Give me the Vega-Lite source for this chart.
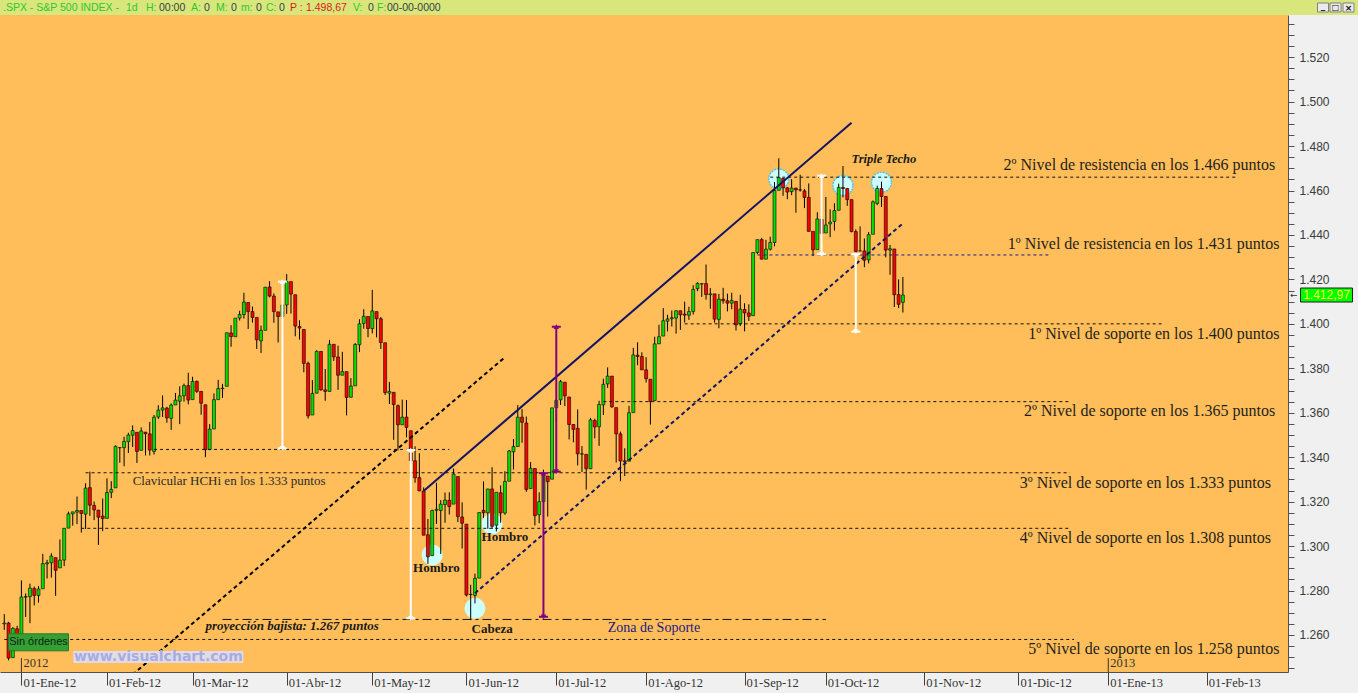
{
"$schema": "https://vega.github.io/schema/vega-lite/v6.json",
"background": "#F0F0F0",
"padding": 0,
"spacing": 0,
"config": {"view": {"stroke": null},
 "axisY": {"grid": false, "domainColor": "#505050", "tickColor": "#505050", "tickSize": 6, "labelPadding": 5, "labelFont": "Liberation Sans", "labelFontSize": 12, "labelColor": "#3A3A3A", "labelOverlap": false, "labelBound": false, "labelFlush": false, "minExtent": 70, "maxExtent": 70}},
"datasets": {
"ohlc": [
{"d":"2011-12-27","o":1265.0,"h":1269.4,"l":1262.3,"c":1265.4},
{"d":"2011-12-28","o":1265.4,"h":1265.9,"l":1248.6,"c":1249.6},
{"d":"2011-12-29","o":1249.8,"h":1263.5,"l":1249.8,"c":1263.0},
{"d":"2011-12-30","o":1262.8,"h":1264.1,"l":1257.5,"c":1257.6},
{"d":"2012-01-03","o":1258.9,"h":1284.6,"l":1258.9,"c":1277.1},
{"d":"2012-01-04","o":1277.0,"h":1278.7,"l":1268.1,"c":1277.3},
{"d":"2012-01-05","o":1277.3,"h":1283.1,"l":1265.3,"c":1281.1},
{"d":"2012-01-06","o":1280.9,"h":1281.8,"l":1273.3,"c":1277.8},
{"d":"2012-01-09","o":1277.8,"h":1282.0,"l":1274.6,"c":1280.7},
{"d":"2012-01-10","o":1280.8,"h":1296.5,"l":1280.8,"c":1292.1},
{"d":"2012-01-11","o":1292.0,"h":1293.8,"l":1285.4,"c":1292.5},
{"d":"2012-01-12","o":1292.5,"h":1296.8,"l":1285.8,"c":1295.5},
{"d":"2012-01-13","o":1294.8,"h":1294.8,"l":1277.6,"c":1289.1},
{"d":"2012-01-17","o":1290.2,"h":1303.0,"l":1290.2,"c":1293.7},
{"d":"2012-01-18","o":1293.7,"h":1308.1,"l":1291.0,"c":1308.0},
{"d":"2012-01-19","o":1308.1,"h":1315.5,"l":1308.1,"c":1314.5},
{"d":"2012-01-20","o":1314.5,"h":1315.4,"l":1309.2,"c":1315.4},
{"d":"2012-01-23","o":1315.3,"h":1322.3,"l":1309.9,"c":1316.0},
{"d":"2012-01-24","o":1316.0,"h":1316.0,"l":1306.1,"c":1314.7},
{"d":"2012-01-25","o":1314.4,"h":1328.3,"l":1307.7,"c":1326.1},
{"d":"2012-01-26","o":1326.3,"h":1333.5,"l":1313.6,"c":1318.4},
{"d":"2012-01-27","o":1318.3,"h":1320.1,"l":1311.7,"c":1316.3},
{"d":"2012-01-30","o":1316.2,"h":1316.2,"l":1300.5,"c":1313.0},
{"d":"2012-01-31","o":1313.5,"h":1321.4,"l":1306.7,"c":1312.4},
{"d":"2012-02-01","o":1312.5,"h":1330.5,"l":1312.5,"c":1324.1},
{"d":"2012-02-02","o":1324.2,"h":1329.2,"l":1321.6,"c":1325.5},
{"d":"2012-02-03","o":1326.2,"h":1345.3,"l":1326.2,"c":1344.9},
{"d":"2012-02-06","o":1344.3,"h":1344.4,"l":1337.5,"c":1344.3},
{"d":"2012-02-07","o":1344.3,"h":1349.2,"l":1335.9,"c":1347.1},
{"d":"2012-02-08","o":1347.0,"h":1351.0,"l":1341.9,"c":1350.0},
{"d":"2012-02-09","o":1349.9,"h":1354.3,"l":1344.6,"c":1352.0},
{"d":"2012-02-10","o":1351.2,"h":1351.2,"l":1337.4,"c":1342.6},
{"d":"2012-02-13","o":1343.1,"h":1353.4,"l":1343.1,"c":1351.8},
{"d":"2012-02-14","o":1351.3,"h":1351.3,"l":1340.8,"c":1350.5},
{"d":"2012-02-15","o":1350.5,"h":1355.9,"l":1340.8,"c":1343.2},
{"d":"2012-02-16","o":1342.6,"h":1359.0,"l":1341.2,"c":1358.0},
{"d":"2012-02-17","o":1358.1,"h":1363.4,"l":1357.2,"c":1361.2},
{"d":"2012-02-21","o":1361.2,"h":1367.8,"l":1358.1,"c":1362.2},
{"d":"2012-02-22","o":1362.1,"h":1362.7,"l":1355.5,"c":1357.7},
{"d":"2012-02-23","o":1357.5,"h":1364.2,"l":1352.3,"c":1363.5},
{"d":"2012-02-24","o":1363.5,"h":1368.9,"l":1363.5,"c":1365.7},
{"d":"2012-02-27","o":1365.2,"h":1371.9,"l":1354.9,"c":1367.6},
{"d":"2012-02-28","o":1367.6,"h":1373.1,"l":1365.0,"c":1372.2},
{"d":"2012-02-29","o":1372.2,"h":1378.0,"l":1363.8,"c":1365.7},
{"d":"2012-03-01","o":1365.9,"h":1376.2,"l":1365.9,"c":1374.1},
{"d":"2012-03-02","o":1374.1,"h":1374.5,"l":1368.9,"c":1369.6},
{"d":"2012-03-05","o":1369.6,"h":1369.6,"l":1359.1,"c":1364.3},
{"d":"2012-03-06","o":1363.6,"h":1363.6,"l":1340.0,"c":1343.4},
{"d":"2012-03-07","o":1343.4,"h":1354.9,"l":1343.4,"c":1352.6},
{"d":"2012-03-08","o":1352.7,"h":1368.7,"l":1352.7,"c":1365.9},
{"d":"2012-03-09","o":1365.9,"h":1374.8,"l":1365.9,"c":1370.9},
{"d":"2012-03-12","o":1370.8,"h":1373.0,"l":1366.7,"c":1371.1},
{"d":"2012-03-13","o":1371.9,"h":1396.1,"l":1371.9,"c":1396.0},
{"d":"2012-03-14","o":1395.9,"h":1399.4,"l":1389.7,"c":1394.3},
{"d":"2012-03-15","o":1394.2,"h":1402.6,"l":1394.2,"c":1402.6},
{"d":"2012-03-16","o":1402.6,"h":1405.9,"l":1401.5,"c":1404.2},
{"d":"2012-03-19","o":1404.2,"h":1414.0,"l":1402.4,"c":1409.8},
{"d":"2012-03-20","o":1409.6,"h":1409.6,"l":1397.7,"c":1405.5},
{"d":"2012-03-21","o":1405.5,"h":1407.8,"l":1400.6,"c":1402.9},
{"d":"2012-03-22","o":1402.9,"h":1402.9,"l":1388.7,"c":1392.8},
{"d":"2012-03-23","o":1392.3,"h":1399.2,"l":1386.9,"c":1397.1},
{"d":"2012-03-26","o":1397.1,"h":1416.6,"l":1397.1,"c":1416.5},
{"d":"2012-03-27","o":1416.6,"h":1419.2,"l":1411.9,"c":1412.5},
{"d":"2012-03-28","o":1412.5,"h":1413.7,"l":1400.5,"c":1405.5},
{"d":"2012-03-29","o":1405.4,"h":1405.4,"l":1391.6,"c":1403.3},
{"d":"2012-03-30","o":1403.3,"h":1410.9,"l":1401.4,"c":1408.5},
{"d":"2012-04-02","o":1408.5,"h":1422.4,"l":1404.5,"c":1419.0},
{"d":"2012-04-03","o":1419.0,"h":1419.0,"l":1404.6,"c":1413.4},
{"d":"2012-04-04","o":1413.1,"h":1413.1,"l":1394.4,"c":1399.0},
{"d":"2012-04-05","o":1398.8,"h":1401.6,"l":1392.9,"c":1398.1},
{"d":"2012-04-09","o":1397.5,"h":1397.5,"l":1378.2,"c":1382.2},
{"d":"2012-04-10","o":1382.2,"h":1383.0,"l":1357.4,"c":1358.6},
{"d":"2012-04-11","o":1359.0,"h":1374.7,"l":1359.0,"c":1368.7},
{"d":"2012-04-12","o":1368.8,"h":1388.1,"l":1368.8,"c":1387.6},
{"d":"2012-04-13","o":1387.6,"h":1387.6,"l":1369.9,"c":1370.3},
{"d":"2012-04-16","o":1370.3,"h":1379.7,"l":1365.4,"c":1369.6},
{"d":"2012-04-17","o":1369.6,"h":1392.8,"l":1369.6,"c":1390.8},
{"d":"2012-04-18","o":1390.8,"h":1390.8,"l":1383.3,"c":1385.1},
{"d":"2012-04-19","o":1385.1,"h":1390.2,"l":1370.3,"c":1376.9},
{"d":"2012-04-20","o":1376.9,"h":1387.4,"l":1376.9,"c":1378.5},
{"d":"2012-04-23","o":1378.5,"h":1378.5,"l":1358.8,"c":1366.9},
{"d":"2012-04-24","o":1367.0,"h":1375.6,"l":1366.8,"c":1372.0},
{"d":"2012-04-25","o":1372.1,"h":1391.4,"l":1372.1,"c":1390.7},
{"d":"2012-04-26","o":1390.6,"h":1402.1,"l":1387.3,"c":1400.0},
{"d":"2012-04-27","o":1400.2,"h":1406.6,"l":1397.8,"c":1403.4},
{"d":"2012-04-30","o":1403.3,"h":1403.3,"l":1394.0,"c":1397.9},
{"d":"2012-05-01","o":1397.9,"h":1415.3,"l":1395.7,"c":1405.8},
{"d":"2012-05-02","o":1405.5,"h":1405.5,"l":1393.9,"c":1402.3},
{"d":"2012-05-03","o":1402.3,"h":1403.1,"l":1388.7,"c":1391.6},
{"d":"2012-05-04","o":1391.5,"h":1391.5,"l":1368.0,"c":1369.1},
{"d":"2012-05-07","o":1368.8,"h":1373.9,"l":1363.9,"c":1369.6},
{"d":"2012-05-08","o":1369.2,"h":1369.2,"l":1347.8,"c":1363.7},
{"d":"2012-05-09","o":1363.2,"h":1363.7,"l":1343.1,"c":1354.6},
{"d":"2012-05-10","o":1354.6,"h":1365.9,"l":1354.6,"c":1358.0},
{"d":"2012-05-11","o":1358.1,"h":1365.7,"l":1348.9,"c":1353.4},
{"d":"2012-05-14","o":1351.9,"h":1351.9,"l":1336.6,"c":1338.4},
{"d":"2012-05-15","o":1338.4,"h":1344.9,"l":1328.5,"c":1330.7},
{"d":"2012-05-16","o":1330.8,"h":1341.8,"l":1324.8,"c":1324.8},
{"d":"2012-05-17","o":1324.8,"h":1326.4,"l":1304.9,"c":1304.9},
{"d":"2012-05-18","o":1305.1,"h":1312.2,"l":1292.0,"c":1295.2},
{"d":"2012-05-21","o":1295.7,"h":1316.4,"l":1295.7,"c":1316.0},
{"d":"2012-05-22","o":1316.1,"h":1328.5,"l":1310.0,"c":1316.6},
{"d":"2012-05-23","o":1316.0,"h":1320.7,"l":1296.5,"c":1318.9},
{"d":"2012-05-24","o":1318.7,"h":1324.1,"l":1310.5,"c":1320.7},
{"d":"2012-05-25","o":1320.6,"h":1324.2,"l":1314.2,"c":1317.8},
{"d":"2012-05-29","o":1318.9,"h":1334.9,"l":1318.9,"c":1332.4},
{"d":"2012-05-30","o":1331.3,"h":1331.3,"l":1310.8,"c":1313.3},
{"d":"2012-05-31","o":1313.1,"h":1319.7,"l":1298.9,"c":1310.3},
{"d":"2012-06-01","o":1309.9,"h":1309.9,"l":1277.3,"c":1278.0},
{"d":"2012-06-04","o":1278.3,"h":1282.6,"l":1266.7,"c":1278.2},
{"d":"2012-06-05","o":1277.8,"h":1287.6,"l":1274.2,"c":1285.5},
{"d":"2012-06-06","o":1285.6,"h":1315.1,"l":1285.6,"c":1315.1},
{"d":"2012-06-07","o":1316.1,"h":1329.1,"l":1312.7,"c":1315.0},
{"d":"2012-06-08","o":1315.0,"h":1325.8,"l":1307.8,"c":1325.7},
{"d":"2012-06-11","o":1325.7,"h":1335.5,"l":1307.7,"c":1308.9},
{"d":"2012-06-12","o":1309.4,"h":1324.3,"l":1306.6,"c":1324.2},
{"d":"2012-06-13","o":1324.0,"h":1327.3,"l":1310.5,"c":1314.9},
{"d":"2012-06-14","o":1314.9,"h":1333.7,"l":1314.1,"c":1329.1},
{"d":"2012-06-15","o":1329.2,"h":1343.3,"l":1329.2,"c":1342.8},
{"d":"2012-06-18","o":1342.4,"h":1348.2,"l":1334.5,"c":1344.8},
{"d":"2012-06-19","o":1344.8,"h":1363.5,"l":1344.8,"c":1358.0},
{"d":"2012-06-20","o":1358.0,"h":1361.6,"l":1346.5,"c":1355.7},
{"d":"2012-06-21","o":1355.4,"h":1358.3,"l":1324.4,"c":1325.5},
{"d":"2012-06-22","o":1325.9,"h":1337.8,"l":1325.9,"c":1335.0},
{"d":"2012-06-25","o":1334.9,"h":1334.9,"l":1309.3,"c":1313.7},
{"d":"2012-06-26","o":1314.1,"h":1324.2,"l":1310.3,"c":1320.0},
{"d":"2012-06-27","o":1320.0,"h":1334.4,"l":1320.0,"c":1331.9},
{"d":"2012-06-28","o":1331.5,"h":1331.5,"l":1313.3,"c":1329.0},
{"d":"2012-06-29","o":1330.1,"h":1362.2,"l":1330.1,"c":1362.2},
{"d":"2012-07-02","o":1362.3,"h":1366.4,"l":1355.7,"c":1365.5},
{"d":"2012-07-03","o":1365.8,"h":1374.8,"l":1363.5,"c":1374.0},
{"d":"2012-07-05","o":1373.7,"h":1373.9,"l":1363.0,"c":1367.6},
{"d":"2012-07-06","o":1367.1,"h":1367.1,"l":1348.0,"c":1354.7},
{"d":"2012-07-09","o":1354.7,"h":1354.9,"l":1346.7,"c":1352.5},
{"d":"2012-07-10","o":1353.0,"h":1361.5,"l":1336.3,"c":1341.5},
{"d":"2012-07-11","o":1341.4,"h":1345.0,"l":1333.3,"c":1341.5},
{"d":"2012-07-12","o":1341.3,"h":1341.3,"l":1325.4,"c":1334.8},
{"d":"2012-07-13","o":1334.8,"h":1357.7,"l":1334.8,"c":1356.8},
{"d":"2012-07-16","o":1356.5,"h":1357.3,"l":1348.5,"c":1353.6},
{"d":"2012-07-17","o":1353.7,"h":1365.4,"l":1345.1,"c":1363.7},
{"d":"2012-07-18","o":1363.6,"h":1375.3,"l":1359.0,"c":1372.8},
{"d":"2012-07-19","o":1373.0,"h":1380.4,"l":1371.2,"c":1376.5},
{"d":"2012-07-20","o":1376.5,"h":1376.5,"l":1362.2,"c":1362.7},
{"d":"2012-07-23","o":1362.3,"h":1362.3,"l":1337.6,"c":1350.5},
{"d":"2012-07-24","o":1350.5,"h":1351.5,"l":1329.2,"c":1338.3},
{"d":"2012-07-25","o":1338.4,"h":1344.0,"l":1331.5,"c":1337.9},
{"d":"2012-07-26","o":1338.2,"h":1363.1,"l":1338.2,"c":1360.0},
{"d":"2012-07-27","o":1360.1,"h":1389.2,"l":1360.1,"c":1386.0},
{"d":"2012-07-30","o":1385.9,"h":1391.7,"l":1381.4,"c":1385.3},
{"d":"2012-07-31","o":1385.3,"h":1387.2,"l":1379.2,"c":1379.3},
{"d":"2012-08-01","o":1379.3,"h":1385.0,"l":1373.6,"c":1375.3},
{"d":"2012-08-02","o":1375.1,"h":1375.1,"l":1354.7,"c":1365.0},
{"d":"2012-08-03","o":1365.5,"h":1394.2,"l":1365.5,"c":1391.0},
{"d":"2012-08-06","o":1391.0,"h":1399.6,"l":1391.0,"c":1394.2},
{"d":"2012-08-07","o":1394.5,"h":1407.1,"l":1394.5,"c":1401.4},
{"d":"2012-08-08","o":1401.2,"h":1404.1,"l":1396.6,"c":1402.2},
{"d":"2012-08-09","o":1402.3,"h":1406.0,"l":1398.8,"c":1402.8},
{"d":"2012-08-10","o":1402.6,"h":1406.0,"l":1395.6,"c":1405.9},
{"d":"2012-08-13","o":1405.9,"h":1405.9,"l":1397.3,"c":1404.1},
{"d":"2012-08-14","o":1404.4,"h":1410.0,"l":1400.6,"c":1403.9},
{"d":"2012-08-15","o":1403.9,"h":1407.7,"l":1401.8,"c":1405.5},
{"d":"2012-08-16","o":1405.6,"h":1417.4,"l":1404.2,"c":1415.5},
{"d":"2012-08-17","o":1415.8,"h":1418.7,"l":1414.7,"c":1418.2},
{"d":"2012-08-20","o":1417.9,"h":1418.1,"l":1412.1,"c":1418.1},
{"d":"2012-08-21","o":1418.1,"h":1426.7,"l":1410.9,"c":1413.2},
{"d":"2012-08-22","o":1413.1,"h":1416.1,"l":1406.8,"c":1413.5},
{"d":"2012-08-23","o":1413.5,"h":1413.5,"l":1400.5,"c":1402.1},
{"d":"2012-08-24","o":1402.0,"h":1413.5,"l":1398.0,"c":1411.1},
{"d":"2012-08-27","o":1411.1,"h":1416.2,"l":1409.1,"c":1410.4},
{"d":"2012-08-28","o":1410.4,"h":1413.6,"l":1405.6,"c":1409.3},
{"d":"2012-08-29","o":1409.3,"h":1414.0,"l":1406.6,"c":1410.5},
{"d":"2012-08-30","o":1410.1,"h":1410.1,"l":1397.0,"c":1399.5},
{"d":"2012-08-31","o":1400.1,"h":1413.1,"l":1399.0,"c":1406.6},
{"d":"2012-09-04","o":1406.5,"h":1409.3,"l":1396.6,"c":1404.9},
{"d":"2012-09-05","o":1404.9,"h":1408.8,"l":1401.3,"c":1403.4},
{"d":"2012-09-06","o":1403.7,"h":1432.1,"l":1403.7,"c":1432.1},
{"d":"2012-09-07","o":1432.1,"h":1437.9,"l":1431.4,"c":1437.9},
{"d":"2012-09-10","o":1437.9,"h":1438.7,"l":1429.0,"c":1429.1},
{"d":"2012-09-11","o":1429.1,"h":1437.8,"l":1429.1,"c":1433.6},
{"d":"2012-09-12","o":1433.6,"h":1439.2,"l":1433.0,"c":1436.6},
{"d":"2012-09-13","o":1436.6,"h":1463.8,"l":1434.9,"c":1460.0},
{"d":"2012-09-14","o":1460.1,"h":1474.5,"l":1460.1,"c":1465.8},
{"d":"2012-09-17","o":1465.4,"h":1465.6,"l":1457.6,"c":1461.2},
{"d":"2012-09-18","o":1461.2,"h":1461.5,"l":1456.1,"c":1459.3},
{"d":"2012-09-19","o":1459.5,"h":1465.1,"l":1457.9,"c":1461.1},
{"d":"2012-09-20","o":1461.1,"h":1461.2,"l":1450.0,"c":1460.3},
{"d":"2012-09-21","o":1460.3,"h":1467.1,"l":1459.5,"c":1460.2},
{"d":"2012-09-24","o":1459.8,"h":1460.7,"l":1452.1,"c":1456.9},
{"d":"2012-09-25","o":1456.9,"h":1463.2,"l":1441.6,"c":1441.6},
{"d":"2012-09-26","o":1441.6,"h":1441.6,"l":1430.5,"c":1433.3},
{"d":"2012-09-27","o":1433.4,"h":1450.2,"l":1433.4,"c":1447.2},
{"d":"2012-09-28","o":1447.1,"h":1447.1,"l":1435.6,"c":1440.7},
{"d":"2012-10-01","o":1440.9,"h":1457.1,"l":1440.9,"c":1444.5},
{"d":"2012-10-02","o":1445.0,"h":1451.5,"l":1439.0,"c":1445.8},
{"d":"2012-10-03","o":1446.1,"h":1454.3,"l":1442.0,"c":1451.0},
{"d":"2012-10-04","o":1451.1,"h":1463.1,"l":1451.1,"c":1461.4},
{"d":"2012-10-05","o":1461.4,"h":1471.0,"l":1456.9,"c":1460.9},
{"d":"2012-10-08","o":1460.9,"h":1460.9,"l":1453.1,"c":1455.9},
{"d":"2012-10-09","o":1455.9,"h":1455.9,"l":1441.2,"c":1441.5},
{"d":"2012-10-10","o":1441.5,"h":1442.5,"l":1430.6,"c":1432.6},
{"d":"2012-10-11","o":1432.8,"h":1443.9,"l":1432.8,"c":1432.8},
{"d":"2012-10-12","o":1432.8,"h":1438.4,"l":1425.5,"c":1428.6},
{"d":"2012-10-15","o":1428.8,"h":1441.3,"l":1427.2,"c":1440.1},
{"d":"2012-10-16","o":1440.3,"h":1455.5,"l":1440.3,"c":1454.9},
{"d":"2012-10-17","o":1454.2,"h":1462.2,"l":1453.4,"c":1460.9},
{"d":"2012-10-18","o":1460.9,"h":1464.0,"l":1452.6,"c":1457.3},
{"d":"2012-10-19","o":1457.3,"h":1457.3,"l":1429.9,"c":1433.2},
{"d":"2012-10-22","o":1433.2,"h":1435.5,"l":1422.1,"c":1433.8},
{"d":"2012-10-23","o":1433.7,"h":1433.7,"l":1407.6,"c":1413.1},
{"d":"2012-10-24","o":1413.2,"h":1420.0,"l":1407.1,"c":1408.8},
{"d":"2012-10-25","o":1409.7,"h":1421.1,"l":1405.1,"c":1412.97}
],
"niveles": [
{"g":"1466","d":"2012-09-12","v":1466},{"g":"1466","d":"2013-02-12","v":1466},
{"g":"1431","d":"2012-09-07","v":1431},{"g":"1431","d":"2012-12-12","v":1431},
{"g":"1400","d":"2012-08-14","v":1400},{"g":"1400","d":"2013-01-18","v":1400},
{"g":"1365","d":"2012-07-18","v":1365},{"g":"1365","d":"2012-12-19","v":1365},
{"g":"1343","d":"2012-02-16","v":1343.5},{"g":"1343","d":"2012-05-25","v":1343.5},
{"g":"1333","d":"2012-01-25","v":1333},{"g":"1333","d":"2012-12-19","v":1333},
{"g":"1308","d":"2012-01-24","v":1308},{"g":"1308","d":"2012-12-19","v":1308},
{"g":"1267","d":"2012-03-12","v":1267},{"g":"1267","d":"2012-10-01","v":1267},
{"g":"1258","d":"2011-12-27","v":1258},{"g":"1258","d":"2012-12-20","v":1258}
],
"tendencias": [
{"g":"sup","d":"2012-05-17","v":1324.8},{"g":"sup","d":"2012-10-09","v":1490.5},
{"g":"inf","d":"2012-06-05","v":1278.8},{"g":"inf","d":"2012-10-25","v":1445.2},
{"g":"hch","d":"2012-02-09","v":1242.2},{"g":"hch","d":"2012-06-14","v":1385.0}
],
"flechas": [
{"patron":"HCH","d":"2012-03-30","top":1419.0,"bot":1344.0},
{"patron":"HCH","d":"2012-05-14","top":1343.2,"bot":1267.5},
{"patron":"HCHi","d":"2012-07-02","top":1398.7,"bot":1333.5},
{"patron":"HCHi","d":"2012-06-27","top":1332.8,"bot":1268.2},
{"patron":"TT","d":"2012-09-28","top":1466.7,"bot":1431.3},
{"patron":"TT","d":"2012-10-10","top":1431.4,"bot":1396.5}
],
"marcas": [
{"patron":"HCHi","d":"2012-05-21","v":1296.0},
{"patron":"HCHi","d":"2012-06-05","v":1272.0},
{"patron":"HCHi","d":"2012-06-11","v":1310.0},
{"patron":"TT","d":"2012-09-14","v":1465.2},
{"patron":"TT","d":"2012-10-05","v":1462.2},
{"patron":"TT","d":"2012-10-18","v":1463.7}
],
"textos": [
{"t":"2º Nivel de resistencia en los 1.466 puntos","d":"2013-02-25","v":1471.5,"clase":"nivel"},
{"t":"1º Nivel de resistencia en los 1.431 puntos","d":"2013-02-26","v":1435.8,"clase":"nivel"},
{"t":"1º Nivel de soporte en los 1.400 puntos","d":"2013-02-26","v":1395.4,"clase":"nivel"},
{"t":"2º Nivel de soporte en los 1.365 puntos","d":"2013-02-25","v":1360.9,"clase":"nivel"},
{"t":"3º Nivel de soporte en los 1.333 puntos","d":"2013-02-22","v":1328.3,"clase":"nivel"},
{"t":"4º Nivel de soporte en los 1.308 puntos","d":"2013-02-22","v":1303.5,"clase":"nivel"},
{"t":"5º Nivel de soporte en los 1.258 puntos","d":"2013-02-26","v":1253.7,"clase":"nivel"},
{"t":"Clavicular HCHi en los 1.333 puntos","d":"2012-02-09","v":1329.3,"clase":"clavicular"},
{"t":"proyección bajista: 1.267 puntos","d":"2012-03-06","v":1264.0,"clase":"proyeccion"},
{"t":"Hombro","d":"2012-05-22","v":1290.3,"clase":"figura"},
{"t":"Hombro","d":"2012-06-14","v":1304.2,"clase":"figura"},
{"t":"Cabeza","d":"2012-06-11","v":1262.7,"clase":"figura"},
{"t":"Zona de Soporte","d":"2012-07-19","v":1263.0,"clase":"zona"},
{"t":"Triple Techo","d":"2012-10-09","v":1474.2,"clase":"techo"}
],
"anios": [{"t":"2012","d":"2012-01-03"},{"t":"2013","d":"2013-01-01"}],
"uno": [{"k":1}]
},
"vconcat": [
{
"width": 1358, "height": 15,
"view": {"fill": "#D9E67C", "stroke": null},
"data": {"name": "uno"},
"layer": [
{"mark": {"type": "text", "align": "left", "baseline": "middle", "font": "Liberation Sans", "fontSize": 10.5, "fill": "#2CC82C"}, "encoding": {"x": {"value": 3}, "y": {"value": 8}, "text": {"value": ".SPX - S&P 500 INDEX -"}}},
{"mark": {"type": "text", "align": "left", "baseline": "middle", "font": "Liberation Sans", "fontSize": 10.5, "fill": "#2CC82C"}, "encoding": {"x": {"value": 126}, "y": {"value": 8}, "text": {"value": "1d"}}},
{"mark": {"type": "text", "align": "left", "baseline": "middle", "font": "Liberation Sans", "fontSize": 10.5, "fill": "#2CC82C"}, "encoding": {"x": {"value": 146}, "y": {"value": 8}, "text": {"value": "H:"}}},
{"mark": {"type": "text", "align": "left", "baseline": "middle", "font": "Liberation Sans", "fontSize": 10.5, "fill": "#34404C"}, "encoding": {"x": {"value": 159}, "y": {"value": 8}, "text": {"value": "00:00"}}},
{"mark": {"type": "text", "align": "left", "baseline": "middle", "font": "Liberation Sans", "fontSize": 10.5, "fill": "#2CC82C"}, "encoding": {"x": {"value": 191}, "y": {"value": 8}, "text": {"value": "A:"}}},
{"mark": {"type": "text", "align": "left", "baseline": "middle", "font": "Liberation Sans", "fontSize": 10.5, "fill": "#34404C"}, "encoding": {"x": {"value": 204}, "y": {"value": 8}, "text": {"value": "0"}}},
{"mark": {"type": "text", "align": "left", "baseline": "middle", "font": "Liberation Sans", "fontSize": 10.5, "fill": "#2CC82C"}, "encoding": {"x": {"value": 216}, "y": {"value": 8}, "text": {"value": "M:"}}},
{"mark": {"type": "text", "align": "left", "baseline": "middle", "font": "Liberation Sans", "fontSize": 10.5, "fill": "#34404C"}, "encoding": {"x": {"value": 231}, "y": {"value": 8}, "text": {"value": "0"}}},
{"mark": {"type": "text", "align": "left", "baseline": "middle", "font": "Liberation Sans", "fontSize": 10.5, "fill": "#2CC82C"}, "encoding": {"x": {"value": 241}, "y": {"value": 8}, "text": {"value": "m:"}}},
{"mark": {"type": "text", "align": "left", "baseline": "middle", "font": "Liberation Sans", "fontSize": 10.5, "fill": "#34404C"}, "encoding": {"x": {"value": 256}, "y": {"value": 8}, "text": {"value": "0"}}},
{"mark": {"type": "text", "align": "left", "baseline": "middle", "font": "Liberation Sans", "fontSize": 10.5, "fill": "#2CC82C"}, "encoding": {"x": {"value": 266}, "y": {"value": 8}, "text": {"value": "C:"}}},
{"mark": {"type": "text", "align": "left", "baseline": "middle", "font": "Liberation Sans", "fontSize": 10.5, "fill": "#34404C"}, "encoding": {"x": {"value": 279}, "y": {"value": 8}, "text": {"value": "0"}}},
{"mark": {"type": "text", "align": "left", "baseline": "middle", "font": "Liberation Sans", "fontSize": 10.5, "fill": "#E01818"}, "encoding": {"x": {"value": 290}, "y": {"value": 8}, "text": {"value": "P :"}}},
{"mark": {"type": "text", "align": "left", "baseline": "middle", "font": "Liberation Sans", "fontSize": 10.5, "fill": "#E01818"}, "encoding": {"x": {"value": 306}, "y": {"value": 8}, "text": {"value": "1.498,67"}}},
{"mark": {"type": "text", "align": "left", "baseline": "middle", "font": "Liberation Sans", "fontSize": 10.5, "fill": "#2CC82C"}, "encoding": {"x": {"value": 353}, "y": {"value": 8}, "text": {"value": "V:"}}},
{"mark": {"type": "text", "align": "left", "baseline": "middle", "font": "Liberation Sans", "fontSize": 10.5, "fill": "#34404C"}, "encoding": {"x": {"value": 368}, "y": {"value": 8}, "text": {"value": "0"}}},
{"mark": {"type": "text", "align": "left", "baseline": "middle", "font": "Liberation Sans", "fontSize": 10.5, "fill": "#2CC82C"}, "encoding": {"x": {"value": 377}, "y": {"value": 8}, "text": {"value": "F:"}}},
{"mark": {"type": "text", "align": "left", "baseline": "middle", "font": "Liberation Sans", "fontSize": 10.5, "fill": "#34404C"}, "encoding": {"x": {"value": 387}, "y": {"value": 8}, "text": {"value": "00-00-0000"}}},
{"mark": {"type": "point", "shape": "M-1.1,-0.9H1.1V0.9H-1.1Z", "size": 100, "filled": true, "fill": "#EBEBEB", "stroke": "#808080", "strokeWidth": 1, "opacity": 1}, "encoding": {"x": {"value": 1323}, "y": {"value": 7.5}}},
{"mark": {"type": "point", "shape": "M-1.1,-0.9H1.1V0.9H-1.1Z", "size": 100, "filled": true, "fill": "#EBEBEB", "stroke": "#808080", "strokeWidth": 1, "opacity": 1}, "encoding": {"x": {"value": 1335.5}, "y": {"value": 7.5}}},
{"mark": {"type": "point", "shape": "M-1.1,-0.9H1.1V0.9H-1.1Z", "size": 100, "filled": true, "fill": "#EBEBEB", "stroke": "#808080", "strokeWidth": 1, "opacity": 1}, "encoding": {"x": {"value": 1348.5}, "y": {"value": 7.5}}},
{"mark": {"type": "text", "align": "center", "baseline": "middle", "font": "DejaVu Sans", "fontWeight": "bold", "fontSize": 9, "fill": "#111111"}, "encoding": {"x": {"value": 1323}, "y": {"value": 6}, "text": {"value": "_"}}},
{"mark": {"type": "text", "align": "center", "baseline": "middle", "font": "DejaVu Sans", "fontSize": 8, "fill": "#111111"}, "encoding": {"x": {"value": 1335.5}, "y": {"value": 8}, "text": {"value": "□"}}},
{"mark": {"type": "text", "align": "center", "baseline": "middle", "font": "DejaVu Sans", "fontWeight": "bold", "fontSize": 9, "fill": "#111111"}, "encoding": {"x": {"value": 1348.5}, "y": {"value": 8}, "text": {"value": "×"}}}
]
},
{
"width": 1288, "height": 657,
"view": {"fill": "#FFBE59", "stroke": null},
"encoding": {
 "x": {"field": "d", "type": "ordinal", "title": null,
  "scale": {"type": "point", "padding": 1.6, "domain": [
"2011-12-27","2011-12-28","2011-12-29","2011-12-30",
"2012-01-03","2012-01-04","2012-01-05","2012-01-06","2012-01-09","2012-01-10","2012-01-11","2012-01-12","2012-01-13","2012-01-17","2012-01-18","2012-01-19","2012-01-20","2012-01-23","2012-01-24","2012-01-25","2012-01-26","2012-01-27","2012-01-30","2012-01-31",
"2012-02-01","2012-02-02","2012-02-03","2012-02-06","2012-02-07","2012-02-08","2012-02-09","2012-02-10","2012-02-13","2012-02-14","2012-02-15","2012-02-16","2012-02-17","2012-02-21","2012-02-22","2012-02-23","2012-02-24","2012-02-27","2012-02-28","2012-02-29",
"2012-03-01","2012-03-02","2012-03-05","2012-03-06","2012-03-07","2012-03-08","2012-03-09","2012-03-12","2012-03-13","2012-03-14","2012-03-15","2012-03-16","2012-03-19","2012-03-20","2012-03-21","2012-03-22","2012-03-23","2012-03-26","2012-03-27","2012-03-28","2012-03-29","2012-03-30",
"2012-04-02","2012-04-03","2012-04-04","2012-04-05","2012-04-09","2012-04-10","2012-04-11","2012-04-12","2012-04-13","2012-04-16","2012-04-17","2012-04-18","2012-04-19","2012-04-20","2012-04-23","2012-04-24","2012-04-25","2012-04-26","2012-04-27","2012-04-30",
"2012-05-01","2012-05-02","2012-05-03","2012-05-04","2012-05-07","2012-05-08","2012-05-09","2012-05-10","2012-05-11","2012-05-14","2012-05-15","2012-05-16","2012-05-17","2012-05-18","2012-05-21","2012-05-22","2012-05-23","2012-05-24","2012-05-25","2012-05-29","2012-05-30","2012-05-31",
"2012-06-01","2012-06-04","2012-06-05","2012-06-06","2012-06-07","2012-06-08","2012-06-11","2012-06-12","2012-06-13","2012-06-14","2012-06-15","2012-06-18","2012-06-19","2012-06-20","2012-06-21","2012-06-22","2012-06-25","2012-06-26","2012-06-27","2012-06-28","2012-06-29",
"2012-07-02","2012-07-03","2012-07-05","2012-07-06","2012-07-09","2012-07-10","2012-07-11","2012-07-12","2012-07-13","2012-07-16","2012-07-17","2012-07-18","2012-07-19","2012-07-20","2012-07-23","2012-07-24","2012-07-25","2012-07-26","2012-07-27","2012-07-30","2012-07-31",
"2012-08-01","2012-08-02","2012-08-03","2012-08-06","2012-08-07","2012-08-08","2012-08-09","2012-08-10","2012-08-13","2012-08-14","2012-08-15","2012-08-16","2012-08-17","2012-08-20","2012-08-21","2012-08-22","2012-08-23","2012-08-24","2012-08-27","2012-08-28","2012-08-29","2012-08-30","2012-08-31",
"2012-09-04","2012-09-05","2012-09-06","2012-09-07","2012-09-10","2012-09-11","2012-09-12","2012-09-13","2012-09-14","2012-09-17","2012-09-18","2012-09-19","2012-09-20","2012-09-21","2012-09-24","2012-09-25","2012-09-26","2012-09-27","2012-09-28",
"2012-10-01","2012-10-02","2012-10-03","2012-10-04","2012-10-05","2012-10-08","2012-10-09","2012-10-10","2012-10-11","2012-10-12","2012-10-15","2012-10-16","2012-10-17","2012-10-18","2012-10-19","2012-10-22","2012-10-23","2012-10-24","2012-10-25",
"2012-10-26","2012-10-29","2012-10-30","2012-10-31",
"2012-11-01","2012-11-02","2012-11-05","2012-11-06","2012-11-07","2012-11-08","2012-11-09","2012-11-12","2012-11-13","2012-11-14","2012-11-15","2012-11-16","2012-11-19","2012-11-20","2012-11-21","2012-11-22","2012-11-23","2012-11-26","2012-11-27","2012-11-28","2012-11-29","2012-11-30",
"2012-12-03","2012-12-04","2012-12-05","2012-12-06","2012-12-07","2012-12-10","2012-12-11","2012-12-12","2012-12-13","2012-12-14","2012-12-17","2012-12-18","2012-12-19","2012-12-20","2012-12-21","2012-12-24","2012-12-25","2012-12-26","2012-12-27","2012-12-28","2012-12-31",
"2013-01-01","2013-01-02","2013-01-03","2013-01-04","2013-01-07","2013-01-08","2013-01-09","2013-01-10","2013-01-11","2013-01-14","2013-01-15","2013-01-16","2013-01-17","2013-01-18","2013-01-21","2013-01-22","2013-01-23","2013-01-24","2013-01-25","2013-01-28","2013-01-29","2013-01-30","2013-01-31",
"2013-02-01","2013-02-04","2013-02-05","2013-02-06","2013-02-07","2013-02-08","2013-02-11","2013-02-12","2013-02-13","2013-02-14","2013-02-15","2013-02-18","2013-02-19","2013-02-20","2013-02-21","2013-02-22","2013-02-25","2013-02-26","2013-02-27"
  ]},
  "axis": {"orient": "bottom", "title": null, "grid": false,
   "values": ["2012-01-03","2012-02-01","2012-03-01","2012-04-02","2012-05-01","2012-06-01","2012-07-02","2012-08-01","2012-09-04","2012-10-01","2012-11-01","2012-12-03","2013-01-01","2013-02-01"],
   "labelExpr": "'01-' + ['Ene','Feb','Mar','Abr','May','Jun','Jul','Ago','Sep','Oct','Nov','Dic'][toNumber(substring(datum.value,5,7))-1] + '-' + substring(datum.value,2,4)",
   "domainColor": "#505050", "tickColor": "#404040", "tickSize": 13,
   "labelAlign": "left", "labelBaseline": "middle", "labelPadding": -2.5, "labelOffset": 1.5, "labelAngle": 0,
   "labelFont": "Liberation Sans Narrow", "labelFontSize": 12.5, "labelColor": "#333333",
   "labelOverlap": false, "labelBound": false, "labelFlush": false, "minExtent": 21, "maxExtent": 21}
 }
},
"layer": [
{"data": {"name": "marcas"}, "transform": [{"filter": "datum.patron == 'HCHi'"}],
 "mark": {"type": "point", "shape": "circle", "filled": true, "fill": "#CCFFFF", "size": 440, "opacity": 1, "strokeWidth": 0},
 "encoding": {"y": {"field": "v", "type": "quantitative", "title": null, "scale": {"domain": [1243.35, 1538.97], "nice": false, "zero": false}, "axis": {"orient": "right", "title": null, "values": [1245,1250,1255,1260,1265,1270,1275,1280,1285,1290,1295,1300,1305,1310,1315,1320,1325,1330,1335,1340,1345,1350,1355,1360,1365,1370,1375,1380,1385,1390,1395,1400,1405,1410,1415,1420,1425,1430,1435,1440,1445,1450,1455,1460,1465,1470,1475,1480,1485,1490,1495,1500,1505,1510,1515,1520,1525,1530,1535], "labelExpr": "datum.value % 20 == 0 ? replace(format(datum.value, ','), ',', '.') : ''"}}}},
{"data": {"name": "marcas"}, "transform": [{"filter": "datum.patron == 'TT'"}],
 "mark": {"type": "point", "shape": "circle", "filled": true, "fill": "#CCFFFF", "size": 400, "opacity": 1, "stroke": "#4CC8F0", "strokeWidth": 1.5, "strokeDash": [2, 1]},
 "encoding": {"y": {"field": "v", "type": "quantitative", "title": null, "scale": {"domain": [1243.35, 1538.97], "nice": false, "zero": false}, "axis": {"orient": "right", "title": null, "values": [1245,1250,1255,1260,1265,1270,1275,1280,1285,1290,1295,1300,1305,1310,1315,1320,1325,1330,1335,1340,1345,1350,1355,1360,1365,1370,1375,1380,1385,1390,1395,1400,1405,1410,1415,1420,1425,1430,1435,1440,1445,1450,1455,1460,1465,1470,1475,1480,1485,1490,1495,1500,1505,1510,1515,1520,1525,1530,1535], "labelExpr": "datum.value % 20 == 0 ? replace(format(datum.value, ','), ',', '.') : ''"}}}},
{"data": {"name": "ohlc"},
 "mark": {"type": "rule", "color": "#000000", "strokeWidth": 1},
 "encoding": {
  "y": {"field": "l", "type": "quantitative", "title": null, "scale": {"domain": [1243.35, 1538.97], "nice": false, "zero": false}, "axis": {"orient": "right", "title": null, "values": [1245,1250,1255,1260,1265,1270,1275,1280,1285,1290,1295,1300,1305,1310,1315,1320,1325,1330,1335,1340,1345,1350,1355,1360,1365,1370,1375,1380,1385,1390,1395,1400,1405,1410,1415,1420,1425,1430,1435,1440,1445,1450,1455,1460,1465,1470,1475,1480,1485,1490,1495,1500,1505,1510,1515,1520,1525,1530,1535], "labelExpr": "datum.value % 20 == 0 ? replace(format(datum.value, ','), ',', '.') : ''"}},
  "y2": {"field": "h"}}},
{"data": {"name": "ohlc"},
 "mark": {"type": "bar", "width": 3, "stroke": "#000000", "strokeWidth": 0.6},
 "encoding": {
  "y": {"field": "o", "type": "quantitative", "title": null, "scale": {"domain": [1243.35, 1538.97], "nice": false, "zero": false}, "axis": {"orient": "right", "title": null, "values": [1245,1250,1255,1260,1265,1270,1275,1280,1285,1290,1295,1300,1305,1310,1315,1320,1325,1330,1335,1340,1345,1350,1355,1360,1365,1370,1375,1380,1385,1390,1395,1400,1405,1410,1415,1420,1425,1430,1435,1440,1445,1450,1455,1460,1465,1470,1475,1480,1485,1490,1495,1500,1505,1510,1515,1520,1525,1530,1535], "labelExpr": "datum.value % 20 == 0 ? replace(format(datum.value, ','), ',', '.') : ''"}},
  "y2": {"field": "c"},
  "color": {"condition": {"test": "datum.c >= datum.o", "value": "#00E000"}, "value": "#FF0000"}}},
{"data": {"name": "niveles"}, "transform": [{"filter": "datum.g != '1431' && datum.g != '1267'"}],
 "mark": {"type": "line", "color": "#111111", "strokeWidth": 1, "strokeDash": [3, 3]},
 "encoding": {"y": {"field": "v", "type": "quantitative", "title": null, "scale": {"domain": [1243.35, 1538.97], "nice": false, "zero": false}, "axis": {"orient": "right", "title": null, "values": [1245,1250,1255,1260,1265,1270,1275,1280,1285,1290,1295,1300,1305,1310,1315,1320,1325,1330,1335,1340,1345,1350,1355,1360,1365,1370,1375,1380,1385,1390,1395,1400,1405,1410,1415,1420,1425,1430,1435,1440,1445,1450,1455,1460,1465,1470,1475,1480,1485,1490,1495,1500,1505,1510,1515,1520,1525,1530,1535], "labelExpr": "datum.value % 20 == 0 ? replace(format(datum.value, ','), ',', '.') : ''"}}, "detail": {"field": "g"}}},
{"data": {"name": "niveles"}, "transform": [{"filter": "datum.g == '1431'"}],
 "mark": {"type": "line", "color": "#1A1A8C", "strokeWidth": 1, "strokeDash": [3, 3]},
 "encoding": {"y": {"field": "v", "type": "quantitative", "title": null, "scale": {"domain": [1243.35, 1538.97], "nice": false, "zero": false}, "axis": {"orient": "right", "title": null, "values": [1245,1250,1255,1260,1265,1270,1275,1280,1285,1290,1295,1300,1305,1310,1315,1320,1325,1330,1335,1340,1345,1350,1355,1360,1365,1370,1375,1380,1385,1390,1395,1400,1405,1410,1415,1420,1425,1430,1435,1440,1445,1450,1455,1460,1465,1470,1475,1480,1485,1490,1495,1500,1505,1510,1515,1520,1525,1530,1535], "labelExpr": "datum.value % 20 == 0 ? replace(format(datum.value, ','), ',', '.') : ''"}}, "detail": {"field": "g"}}},
{"data": {"name": "niveles"}, "transform": [{"filter": "datum.g == '1267'"}],
 "mark": {"type": "line", "color": "#111111", "strokeWidth": 1, "strokeDash": [9, 4, 3, 4]},
 "encoding": {"y": {"field": "v", "type": "quantitative", "title": null, "scale": {"domain": [1243.35, 1538.97], "nice": false, "zero": false}, "axis": {"orient": "right", "title": null, "values": [1245,1250,1255,1260,1265,1270,1275,1280,1285,1290,1295,1300,1305,1310,1315,1320,1325,1330,1335,1340,1345,1350,1355,1360,1365,1370,1375,1380,1385,1390,1395,1400,1405,1410,1415,1420,1425,1430,1435,1440,1445,1450,1455,1460,1465,1470,1475,1480,1485,1490,1495,1500,1505,1510,1515,1520,1525,1530,1535], "labelExpr": "datum.value % 20 == 0 ? replace(format(datum.value, ','), ',', '.') : ''"}}, "detail": {"field": "g"}}},
{"data": {"name": "tendencias"}, "transform": [{"filter": "datum.g == 'sup'"}],
 "mark": {"type": "line", "color": "#141466", "strokeWidth": 2},
 "encoding": {"y": {"field": "v", "type": "quantitative", "title": null, "scale": {"domain": [1243.35, 1538.97], "nice": false, "zero": false}, "axis": {"orient": "right", "title": null, "values": [1245,1250,1255,1260,1265,1270,1275,1280,1285,1290,1295,1300,1305,1310,1315,1320,1325,1330,1335,1340,1345,1350,1355,1360,1365,1370,1375,1380,1385,1390,1395,1400,1405,1410,1415,1420,1425,1430,1435,1440,1445,1450,1455,1460,1465,1470,1475,1480,1485,1490,1495,1500,1505,1510,1515,1520,1525,1530,1535], "labelExpr": "datum.value % 20 == 0 ? replace(format(datum.value, ','), ',', '.') : ''"}}}},
{"data": {"name": "tendencias"}, "transform": [{"filter": "datum.g == 'inf'"}],
 "mark": {"type": "line", "color": "#141466", "strokeWidth": 2, "strokeDash": [4, 3]},
 "encoding": {"y": {"field": "v", "type": "quantitative", "title": null, "scale": {"domain": [1243.35, 1538.97], "nice": false, "zero": false}, "axis": {"orient": "right", "title": null, "values": [1245,1250,1255,1260,1265,1270,1275,1280,1285,1290,1295,1300,1305,1310,1315,1320,1325,1330,1335,1340,1345,1350,1355,1360,1365,1370,1375,1380,1385,1390,1395,1400,1405,1410,1415,1420,1425,1430,1435,1440,1445,1450,1455,1460,1465,1470,1475,1480,1485,1490,1495,1500,1505,1510,1515,1520,1525,1530,1535], "labelExpr": "datum.value % 20 == 0 ? replace(format(datum.value, ','), ',', '.') : ''"}}}},
{"data": {"name": "tendencias"}, "transform": [{"filter": "datum.g == 'hch'"}],
 "mark": {"type": "line", "color": "#000000", "strokeWidth": 2, "strokeDash": [4, 3], "clip": true},
 "encoding": {"y": {"field": "v", "type": "quantitative", "title": null, "scale": {"domain": [1243.35, 1538.97], "nice": false, "zero": false}, "axis": {"orient": "right", "title": null, "values": [1245,1250,1255,1260,1265,1270,1275,1280,1285,1290,1295,1300,1305,1310,1315,1320,1325,1330,1335,1340,1345,1350,1355,1360,1365,1370,1375,1380,1385,1390,1395,1400,1405,1410,1415,1420,1425,1430,1435,1440,1445,1450,1455,1460,1465,1470,1475,1480,1485,1490,1495,1500,1505,1510,1515,1520,1525,1530,1535], "labelExpr": "datum.value % 20 == 0 ? replace(format(datum.value, ','), ',', '.') : ''"}}}},
{"data": {"name": "flechas"},
 "mark": {"type": "rule", "strokeWidth": 2},
 "encoding": {"y": {"field": "top", "type": "quantitative", "title": null, "scale": {"domain": [1243.35, 1538.97], "nice": false, "zero": false}, "axis": {"orient": "right", "title": null, "values": [1245,1250,1255,1260,1265,1270,1275,1280,1285,1290,1295,1300,1305,1310,1315,1320,1325,1330,1335,1340,1345,1350,1355,1360,1365,1370,1375,1380,1385,1390,1395,1400,1405,1410,1415,1420,1425,1430,1435,1440,1445,1450,1455,1460,1465,1470,1475,1480,1485,1490,1495,1500,1505,1510,1515,1520,1525,1530,1535], "labelExpr": "datum.value % 20 == 0 ? replace(format(datum.value, ','), ',', '.') : ''"}}, "y2": {"field": "bot"},
  "color": {"field": "patron", "type": "nominal", "scale": {"domain": ["HCH", "HCHi", "TT"], "range": ["#FFFFFF", "#800080", "#FFFFFF"]}, "legend": null}}},
{"data": {"name": "flechas"},
 "mark": {"type": "tick", "size": 9, "thickness": 2, "opacity": 1},
 "encoding": {"y": {"field": "top", "type": "quantitative", "title": null, "scale": {"domain": [1243.35, 1538.97], "nice": false, "zero": false}, "axis": {"orient": "right", "title": null, "values": [1245,1250,1255,1260,1265,1270,1275,1280,1285,1290,1295,1300,1305,1310,1315,1320,1325,1330,1335,1340,1345,1350,1355,1360,1365,1370,1375,1380,1385,1390,1395,1400,1405,1410,1415,1420,1425,1430,1435,1440,1445,1450,1455,1460,1465,1470,1475,1480,1485,1490,1495,1500,1505,1510,1515,1520,1525,1530,1535], "labelExpr": "datum.value % 20 == 0 ? replace(format(datum.value, ','), ',', '.') : ''"}},
  "color": {"field": "patron", "type": "nominal", "scale": {"domain": ["HCH", "HCHi", "TT"], "range": ["#FFFFFF", "#800080", "#FFFFFF"]}, "legend": null}}},
{"data": {"name": "flechas"},
 "mark": {"type": "tick", "size": 9, "thickness": 2, "opacity": 1},
 "encoding": {"y": {"field": "bot", "type": "quantitative", "title": null, "scale": {"domain": [1243.35, 1538.97], "nice": false, "zero": false}, "axis": {"orient": "right", "title": null, "values": [1245,1250,1255,1260,1265,1270,1275,1280,1285,1290,1295,1300,1305,1310,1315,1320,1325,1330,1335,1340,1345,1350,1355,1360,1365,1370,1375,1380,1385,1390,1395,1400,1405,1410,1415,1420,1425,1430,1435,1440,1445,1450,1455,1460,1465,1470,1475,1480,1485,1490,1495,1500,1505,1510,1515,1520,1525,1530,1535], "labelExpr": "datum.value % 20 == 0 ? replace(format(datum.value, ','), ',', '.') : ''"}},
  "color": {"field": "patron", "type": "nominal", "scale": {"domain": ["HCH", "HCHi", "TT"], "range": ["#FFFFFF", "#800080", "#FFFFFF"]}, "legend": null}}},
{"data": {"name": "flechas"},
 "mark": {"type": "point", "shape": "triangle-up", "filled": true, "size": 30, "opacity": 1},
 "encoding": {"y": {"field": "top", "type": "quantitative", "title": null, "scale": {"domain": [1243.35, 1538.97], "nice": false, "zero": false}, "axis": {"orient": "right", "title": null, "values": [1245,1250,1255,1260,1265,1270,1275,1280,1285,1290,1295,1300,1305,1310,1315,1320,1325,1330,1335,1340,1345,1350,1355,1360,1365,1370,1375,1380,1385,1390,1395,1400,1405,1410,1415,1420,1425,1430,1435,1440,1445,1450,1455,1460,1465,1470,1475,1480,1485,1490,1495,1500,1505,1510,1515,1520,1525,1530,1535], "labelExpr": "datum.value % 20 == 0 ? replace(format(datum.value, ','), ',', '.') : ''"}},
  "color": {"field": "patron", "type": "nominal", "scale": {"domain": ["HCH", "HCHi", "TT"], "range": ["#FFFFFF", "#800080", "#FFFFFF"]}, "legend": null}}},
{"data": {"name": "flechas"},
 "mark": {"type": "point", "shape": "triangle-down", "filled": true, "size": 30, "opacity": 1},
 "encoding": {"y": {"field": "bot", "type": "quantitative", "title": null, "scale": {"domain": [1243.35, 1538.97], "nice": false, "zero": false}, "axis": {"orient": "right", "title": null, "values": [1245,1250,1255,1260,1265,1270,1275,1280,1285,1290,1295,1300,1305,1310,1315,1320,1325,1330,1335,1340,1345,1350,1355,1360,1365,1370,1375,1380,1385,1390,1395,1400,1405,1410,1415,1420,1425,1430,1435,1440,1445,1450,1455,1460,1465,1470,1475,1480,1485,1490,1495,1500,1505,1510,1515,1520,1525,1530,1535], "labelExpr": "datum.value % 20 == 0 ? replace(format(datum.value, ','), ',', '.') : ''"}},
  "color": {"field": "patron", "type": "nominal", "scale": {"domain": ["HCH", "HCHi", "TT"], "range": ["#FFFFFF", "#800080", "#FFFFFF"]}, "legend": null}}},
{"data": {"name": "textos"}, "transform": [{"filter": "datum.clase == 'nivel'"}],
 "mark": {"type": "text", "align": "right", "baseline": "middle", "font": "Liberation Serif", "fontSize": 16, "fill": "#1E1E1E"},
 "encoding": {"y": {"field": "v", "type": "quantitative", "title": null, "scale": {"domain": [1243.35, 1538.97], "nice": false, "zero": false}, "axis": {"orient": "right", "title": null, "values": [1245,1250,1255,1260,1265,1270,1275,1280,1285,1290,1295,1300,1305,1310,1315,1320,1325,1330,1335,1340,1345,1350,1355,1360,1365,1370,1375,1380,1385,1390,1395,1400,1405,1410,1415,1420,1425,1430,1435,1440,1445,1450,1455,1460,1465,1470,1475,1480,1485,1490,1495,1500,1505,1510,1515,1520,1525,1530,1535], "labelExpr": "datum.value % 20 == 0 ? replace(format(datum.value, ','), ',', '.') : ''"}}, "text": {"field": "t"}}},
{"data": {"name": "textos"}, "transform": [{"filter": "datum.clase == 'clavicular'"}],
 "mark": {"type": "text", "align": "left", "baseline": "middle", "font": "Liberation Serif", "fontSize": 13, "fill": "#2A2A2A"},
 "encoding": {"y": {"field": "v", "type": "quantitative", "title": null, "scale": {"domain": [1243.35, 1538.97], "nice": false, "zero": false}, "axis": {"orient": "right", "title": null, "values": [1245,1250,1255,1260,1265,1270,1275,1280,1285,1290,1295,1300,1305,1310,1315,1320,1325,1330,1335,1340,1345,1350,1355,1360,1365,1370,1375,1380,1385,1390,1395,1400,1405,1410,1415,1420,1425,1430,1435,1440,1445,1450,1455,1460,1465,1470,1475,1480,1485,1490,1495,1500,1505,1510,1515,1520,1525,1530,1535], "labelExpr": "datum.value % 20 == 0 ? replace(format(datum.value, ','), ',', '.') : ''"}}, "text": {"field": "t"}}},
{"data": {"name": "textos"}, "transform": [{"filter": "datum.clase == 'proyeccion'"}],
 "mark": {"type": "text", "align": "left", "baseline": "middle", "font": "Liberation Serif", "fontSize": 13, "fontStyle": "italic", "fontWeight": "bold", "fill": "#1A1A1A"},
 "encoding": {"y": {"field": "v", "type": "quantitative", "title": null, "scale": {"domain": [1243.35, 1538.97], "nice": false, "zero": false}, "axis": {"orient": "right", "title": null, "values": [1245,1250,1255,1260,1265,1270,1275,1280,1285,1290,1295,1300,1305,1310,1315,1320,1325,1330,1335,1340,1345,1350,1355,1360,1365,1370,1375,1380,1385,1390,1395,1400,1405,1410,1415,1420,1425,1430,1435,1440,1445,1450,1455,1460,1465,1470,1475,1480,1485,1490,1495,1500,1505,1510,1515,1520,1525,1530,1535], "labelExpr": "datum.value % 20 == 0 ? replace(format(datum.value, ','), ',', '.') : ''"}}, "text": {"field": "t"}}},
{"data": {"name": "textos"}, "transform": [{"filter": "datum.clase == 'figura'"}],
 "mark": {"type": "text", "align": "center", "baseline": "middle", "font": "Liberation Serif", "fontSize": 13, "fontWeight": "bold", "fill": "#1A1A1A"},
 "encoding": {"y": {"field": "v", "type": "quantitative", "title": null, "scale": {"domain": [1243.35, 1538.97], "nice": false, "zero": false}, "axis": {"orient": "right", "title": null, "values": [1245,1250,1255,1260,1265,1270,1275,1280,1285,1290,1295,1300,1305,1310,1315,1320,1325,1330,1335,1340,1345,1350,1355,1360,1365,1370,1375,1380,1385,1390,1395,1400,1405,1410,1415,1420,1425,1430,1435,1440,1445,1450,1455,1460,1465,1470,1475,1480,1485,1490,1495,1500,1505,1510,1515,1520,1525,1530,1535], "labelExpr": "datum.value % 20 == 0 ? replace(format(datum.value, ','), ',', '.') : ''"}}, "text": {"field": "t"}}},
{"data": {"name": "textos"}, "transform": [{"filter": "datum.clase == 'zona'"}],
 "mark": {"type": "text", "align": "left", "baseline": "middle", "font": "Liberation Serif", "fontSize": 14, "fill": "#1A1A80"},
 "encoding": {"y": {"field": "v", "type": "quantitative", "title": null, "scale": {"domain": [1243.35, 1538.97], "nice": false, "zero": false}, "axis": {"orient": "right", "title": null, "values": [1245,1250,1255,1260,1265,1270,1275,1280,1285,1290,1295,1300,1305,1310,1315,1320,1325,1330,1335,1340,1345,1350,1355,1360,1365,1370,1375,1380,1385,1390,1395,1400,1405,1410,1415,1420,1425,1430,1435,1440,1445,1450,1455,1460,1465,1470,1475,1480,1485,1490,1495,1500,1505,1510,1515,1520,1525,1530,1535], "labelExpr": "datum.value % 20 == 0 ? replace(format(datum.value, ','), ',', '.') : ''"}}, "text": {"field": "t"}}},
{"data": {"name": "textos"}, "transform": [{"filter": "datum.clase == 'techo'"}],
 "mark": {"type": "text", "align": "left", "baseline": "middle", "font": "Liberation Serif", "fontSize": 12.5, "fontStyle": "italic", "fontWeight": "bold", "fill": "#1A1A1A"},
 "encoding": {"y": {"field": "v", "type": "quantitative", "title": null, "scale": {"domain": [1243.35, 1538.97], "nice": false, "zero": false}, "axis": {"orient": "right", "title": null, "values": [1245,1250,1255,1260,1265,1270,1275,1280,1285,1290,1295,1300,1305,1310,1315,1320,1325,1330,1335,1340,1345,1350,1355,1360,1365,1370,1375,1380,1385,1390,1395,1400,1405,1410,1415,1420,1425,1430,1435,1440,1445,1450,1455,1460,1465,1470,1475,1480,1485,1490,1495,1500,1505,1510,1515,1520,1525,1530,1535], "labelExpr": "datum.value % 20 == 0 ? replace(format(datum.value, ','), ',', '.') : ''"}}, "text": {"field": "t"}}},
{"data": {"name": "anios"},
 "mark": {"type": "rule", "color": "#333333", "strokeWidth": 1},
 "encoding": {"y": {"datum": 1243.35, "type": "quantitative", "scale": {"domain": [1243.35, 1538.97], "nice": false, "zero": false}, "axis": {"orient": "right", "title": null, "values": [1245,1250,1255,1260,1265,1270,1275,1280,1285,1290,1295,1300,1305,1310,1315,1320,1325,1330,1335,1340,1345,1350,1355,1360,1365,1370,1375,1380,1385,1390,1395,1400,1405,1410,1415,1420,1425,1430,1435,1440,1445,1450,1455,1460,1465,1470,1475,1480,1485,1490,1495,1500,1505,1510,1515,1520,1525,1530,1535], "labelExpr": "datum.value % 20 == 0 ? replace(format(datum.value, ','), ',', '.') : ''"}}, "y2": {"datum": 1249.6}}},
{"data": {"name": "anios"},
 "mark": {"type": "text", "align": "left", "baseline": "middle", "dx": 2, "font": "Liberation Sans Narrow", "fontSize": 12.5, "fill": "#333333"},
 "encoding": {"y": {"datum": 1247.3, "type": "quantitative", "scale": {"domain": [1243.35, 1538.97], "nice": false, "zero": false}, "axis": {"orient": "right", "title": null, "values": [1245,1250,1255,1260,1265,1270,1275,1280,1285,1290,1295,1300,1305,1310,1315,1320,1325,1330,1335,1340,1345,1350,1355,1360,1365,1370,1375,1380,1385,1390,1395,1400,1405,1410,1415,1420,1425,1430,1435,1440,1445,1450,1455,1460,1465,1470,1475,1480,1485,1490,1495,1500,1505,1510,1515,1520,1525,1530,1535], "labelExpr": "datum.value % 20 == 0 ? replace(format(datum.value, ','), ',', '.') : ''"}}, "text": {"field": "t"}}},
{"data": {"name": "uno"},
 "mark": {"type": "point", "shape": "M-1,-0.283H1V0.283H-1Z", "size": 3600, "filled": true, "fill": "#34A034", "stroke": "#2A7A2A", "strokeWidth": 1, "opacity": 1},
 "encoding": {"x": {"datum": "2012-01-09", "type": "ordinal"}, "y": {"datum": 1256.7, "type": "quantitative", "scale": {"domain": [1243.35, 1538.97], "nice": false, "zero": false}, "axis": {"orient": "right", "title": null, "values": [1245,1250,1255,1260,1265,1270,1275,1280,1285,1290,1295,1300,1305,1310,1315,1320,1325,1330,1335,1340,1345,1350,1355,1360,1365,1370,1375,1380,1385,1390,1395,1400,1405,1410,1415,1420,1425,1430,1435,1440,1445,1450,1455,1460,1465,1470,1475,1480,1485,1490,1495,1500,1505,1510,1515,1520,1525,1530,1535], "labelExpr": "datum.value % 20 == 0 ? replace(format(datum.value, ','), ',', '.') : ''"}}}},
{"data": {"name": "uno"},
 "mark": {"type": "text", "align": "center", "baseline": "middle", "font": "Liberation Sans", "fontSize": 11, "fill": "#102010"},
 "encoding": {"x": {"datum": "2012-01-09", "type": "ordinal"}, "y": {"datum": 1256.7, "type": "quantitative", "scale": {"domain": [1243.35, 1538.97], "nice": false, "zero": false}, "axis": {"orient": "right", "title": null, "values": [1245,1250,1255,1260,1265,1270,1275,1280,1285,1290,1295,1300,1305,1310,1315,1320,1325,1330,1335,1340,1345,1350,1355,1360,1365,1370,1375,1380,1385,1390,1395,1400,1405,1410,1415,1420,1425,1430,1435,1440,1445,1450,1455,1460,1465,1470,1475,1480,1485,1490,1495,1500,1505,1510,1515,1520,1525,1530,1535], "labelExpr": "datum.value % 20 == 0 ? replace(format(datum.value, ','), ',', '.') : ''"}}, "text": {"value": "Sin órdenes"}}},
{"data": {"name": "uno"},
 "mark": {"type": "point", "shape": "M-1,-0.0706H1V0.0706H-1Z", "size": 28900, "filled": true, "fill": "#E3DBE3", "strokeWidth": 0, "opacity": 1},
 "encoding": {"x": {"datum": "2012-02-17", "type": "ordinal"}, "y": {"datum": 1250.1, "type": "quantitative", "scale": {"domain": [1243.35, 1538.97], "nice": false, "zero": false}, "axis": {"orient": "right", "title": null, "values": [1245,1250,1255,1260,1265,1270,1275,1280,1285,1290,1295,1300,1305,1310,1315,1320,1325,1330,1335,1340,1345,1350,1355,1360,1365,1370,1375,1380,1385,1390,1395,1400,1405,1410,1415,1420,1425,1430,1435,1440,1445,1450,1455,1460,1465,1470,1475,1480,1485,1490,1495,1500,1505,1510,1515,1520,1525,1530,1535], "labelExpr": "datum.value % 20 == 0 ? replace(format(datum.value, ','), ',', '.') : ''"}}}},
{"data": {"name": "uno"},
 "mark": {"type": "text", "align": "center", "baseline": "middle", "font": "DejaVu Sans", "fontWeight": "bold", "fontSize": 14, "fill": "#A6ACE6"},
 "encoding": {"x": {"datum": "2012-02-17", "type": "ordinal"}, "y": {"datum": 1250.1, "type": "quantitative", "scale": {"domain": [1243.35, 1538.97], "nice": false, "zero": false}, "axis": {"orient": "right", "title": null, "values": [1245,1250,1255,1260,1265,1270,1275,1280,1285,1290,1295,1300,1305,1310,1315,1320,1325,1330,1335,1340,1345,1350,1355,1360,1365,1370,1375,1380,1385,1390,1395,1400,1405,1410,1415,1420,1425,1430,1435,1440,1445,1450,1455,1460,1465,1470,1475,1480,1485,1490,1495,1500,1505,1510,1515,1520,1525,1530,1535], "labelExpr": "datum.value % 20 == 0 ? replace(format(datum.value, ','), ',', '.') : ''"}}, "text": {"value": "www.visualchart.com"}}},
{"data": {"name": "uno"},
 "mark": {"type": "point", "shape": "M1.68,-0.7H6.88V0.7H1.68Z", "size": 400, "filled": true, "fill": "#00FF00", "stroke": "#202020", "strokeWidth": 1, "opacity": 1},
 "encoding": {"x": {"datum": "2013-02-27", "type": "ordinal"}, "y": {"datum": 1412.97, "type": "quantitative", "scale": {"domain": [1243.35, 1538.97], "nice": false, "zero": false}, "axis": {"orient": "right", "title": null, "values": [1245,1250,1255,1260,1265,1270,1275,1280,1285,1290,1295,1300,1305,1310,1315,1320,1325,1330,1335,1340,1345,1350,1355,1360,1365,1370,1375,1380,1385,1390,1395,1400,1405,1410,1415,1420,1425,1430,1435,1440,1445,1450,1455,1460,1465,1470,1475,1480,1485,1490,1495,1500,1505,1510,1515,1520,1525,1530,1535], "labelExpr": "datum.value % 20 == 0 ? replace(format(datum.value, ','), ',', '.') : ''"}}}},
{"data": {"name": "uno"},
 "mark": {"type": "text", "align": "center", "baseline": "middle", "dx": 42.8, "font": "Liberation Sans", "fontSize": 12, "fill": "#F4FF30"},
 "encoding": {"x": {"datum": "2013-02-27", "type": "ordinal"}, "y": {"datum": 1412.97, "type": "quantitative", "scale": {"domain": [1243.35, 1538.97], "nice": false, "zero": false}, "axis": {"orient": "right", "title": null, "values": [1245,1250,1255,1260,1265,1270,1275,1280,1285,1290,1295,1300,1305,1310,1315,1320,1325,1330,1335,1340,1345,1350,1355,1360,1365,1370,1375,1380,1385,1390,1395,1400,1405,1410,1415,1420,1425,1430,1435,1440,1445,1450,1455,1460,1465,1470,1475,1480,1485,1490,1495,1500,1505,1510,1515,1520,1525,1530,1535], "labelExpr": "datum.value % 20 == 0 ? replace(format(datum.value, ','), ',', '.') : ''"}}, "text": {"value": "1.412,97"}}},
{"data": {"name": "uno"},
 "mark": {"type": "text", "align": "center", "baseline": "middle", "dx": 10, "font": "DejaVu Sans", "fontSize": 9, "fill": "#333333"},
 "encoding": {"x": {"datum": "2013-02-27", "type": "ordinal"}, "y": {"datum": 1412.97, "type": "quantitative", "scale": {"domain": [1243.35, 1538.97], "nice": false, "zero": false}, "axis": {"orient": "right", "title": null, "values": [1245,1250,1255,1260,1265,1270,1275,1280,1285,1290,1295,1300,1305,1310,1315,1320,1325,1330,1335,1340,1345,1350,1355,1360,1365,1370,1375,1380,1385,1390,1395,1400,1405,1410,1415,1420,1425,1430,1435,1440,1445,1450,1455,1460,1465,1470,1475,1480,1485,1490,1495,1500,1505,1510,1515,1520,1525,1530,1535], "labelExpr": "datum.value % 20 == 0 ? replace(format(datum.value, ','), ',', '.') : ''"}}, "text": {"value": "←"}}}
]
}
]
}
